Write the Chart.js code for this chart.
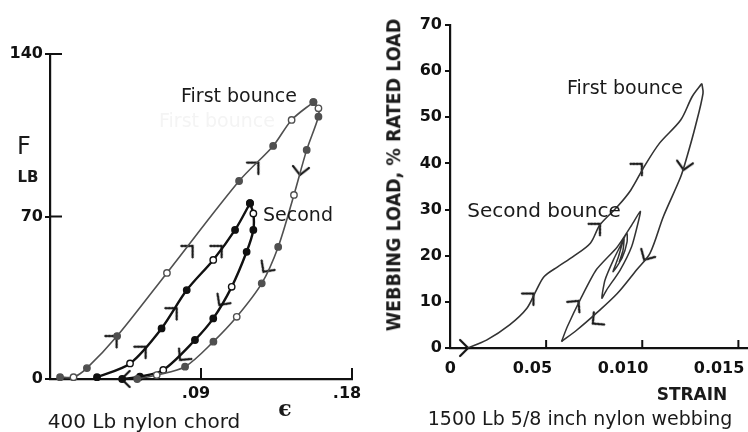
<!DOCTYPE html>
<html>
<head>
<meta charset="utf-8">
<script src="https://cdn.jsdelivr.net/npm/chart.js@4.4.1/dist/chart.umd.min.js"></script>
<style>
html, body { margin: 0; padding: 0; background: #fff; }
#wrap { position: relative; width: 748px; height: 432px; overflow: hidden; }
canvas { position: absolute; left: 0; top: 0; }
.t { position: absolute; white-space: nowrap; line-height: 1; transform: translate(-50%, -50%); font-family: 'DejaVu Sans'; color: #1a1a1a; }
</style>
</head>
<body>
<div id="wrap">
  <canvas id="left" width="748" height="432"></canvas>
  <canvas id="right" width="748" height="432"></canvas>

  <div class="t" style="left:217px;top:120px;font-size:19px;color:#f4f4f4">First bounce</div>
  <div class="t" style="left:24px;top:146px;font-size:24px">F</div>
  <div class="t" style="left:28px;top:177px;font-size:15px;font-weight:bold">LB</div>
  <div class="t" style="left:239px;top:95px;font-size:19px">First bounce</div>
  <div class="t" style="left:298px;top:214px;font-size:19px">Second</div>
  <div class="t" style="left:285px;top:408px;font-size:22px;font-weight:bold;font-family:'DejaVu Serif'">ϵ</div>
  <div class="t" style="left:144px;top:421px;font-size:20px">400 Lb nylon chord</div>

  <div class="t" style="left:394px;top:175px;font-size:19.5px;font-weight:bold;font-family:'DejaVu Sans Condensed','DejaVu Sans';transform:translate(-50%,-50%) rotate(-90deg)">WEBBING LOAD, % RATED LOAD</div>
  <div class="t" style="left:625px;top:87px;font-size:19px">First bounce</div>
  <div class="t" style="left:544px;top:210px;font-size:20px">Second bounce</div>
  <div class="t" style="left:692px;top:394px;font-size:17px;font-weight:bold">STRAIN</div>
  <div class="t" style="left:580px;top:418px;font-size:19px">1500 Lb 5/8 inch nylon webbing</div>
</div>
<script>
// ---- 400 Lb nylon chord (left) ----
var chordXTicks = [0, 0.09, 0.18];
var chordXLabels = ['', '.09', '.18'];
var chordYTicks = [0, 70, 140];

// first bounce, loading / unloading
var load1X = [0.006, 0.014, 0.022, 0.040, 0.0697, 0.1127, 0.133, 0.144, 0.157];
var load1Y = [0.8, 0.8, 4.7, 18.5, 45.7, 85.3, 100.4, 111.6, 119.3];
var unload1X = [0.157, 0.160, 0.160, 0.153, 0.1454, 0.136, 0.1262, 0.1113, 0.0974, 0.0805, 0.0636, 0.052];
var unload1Y = [119.3, 116.6, 113, 98.7, 79.3, 56.9, 41.2, 26.8, 16.1, 5.3, 1.7, 0];
// second bounce
var load2X = [0.028, 0.0477, 0.0665, 0.0815, 0.0973, 0.1103, 0.1192];
var load2Y = [0.8, 6.7, 21.8, 38.3, 51.3, 64.2, 75.7];
var unload2X = [0.1192, 0.1212, 0.1212, 0.1172, 0.1083, 0.0973, 0.0864, 0.0675, 0.0536, 0.043];
var unload2Y = [75.7, 71.3, 64.2, 54.8, 39.7, 26.1, 16.8, 3.9, 1, 0];

var chordArrowX = [0.0397, 0.085, 0.1242, 0.149, 0.1272, 0.057, 0.0755, 0.1023, 0.1009, 0.0775, 0.0427];
var chordArrowY = [18.5, 57.3, 93.2, 87.9, 46.2, 13.9, 30.5, 57.3, 31.9, 8.2, 0];
var chordArrowRot = [-45, -45, -45, 97, 126, -45, -45, -45, 126, 130, 180];

// ---- 1500 Lb 5/8 inch nylon webbing (right) ----
var webXTicks = [0, 0.005, 0.010, 0.015];
var webXLabels = ['0', '0.05', '0.010', '0.015'];

var webLoad1X = [0.0009, 0.0019, 0.0031, 0.0040, 0.0045, 0.0049, 0.0056, 0.0064, 0.0073, 0.0078, 0.0087, 0.0094, 0.0101, 0.0109, 0.0120, 0.0126, 0.0131];
var webLoad1Y = [0, 1.7, 5, 8.6, 12.6, 15.5, 17.6, 19.8, 22.7, 26.7, 30.6, 34.2, 39.3, 44.4, 49.4, 54.5, 57.3];
var webUnload1X = [0.0131, 0.01316, 0.01276, 0.01233, 0.0120, 0.0111, 0.0104, 0.0097, 0.0087, 0.0076, 0.0066, 0.0058];
var webUnload1Y = [57.3, 55.2, 48, 41.5, 37.1, 28.5, 20.5, 16.9, 11.8, 7.5, 3.9, 1.4];
// second bounce: a spiral of shrinking loops
var webSecondX = [0.0058, 0.0061, 0.0068, 0.0076, 0.0087, 0.0094, 0.0099, 0.00978, 0.00945, 0.00885, 0.00815, 0.0079,
                  0.00806, 0.0085, 0.00893, 0.0092, 0.00921, 0.00895, 0.00848, 0.00874, 0.00905, 0.009, 0.0088];
var webSecondY = [1.4, 4.6, 10.7, 16.9, 21.9, 26.3, 29.6, 27.1, 22, 16.9, 12.6, 10.8,
                  14.7, 19.1, 22.7, 24.9, 23, 19.5, 16.5, 19.5, 23.8, 21.2, 18.6];

var webArrowX = [0.00094, 0.00434, 0.0078, 0.00998, 0.01215, 0.0101, 0.00743, 0.00668];
var webArrowY = [0, 11.8, 26.9, 39.9, 38.6, 19.1, 5.3, 10.2];
var webArrowRot = [0, -45, -45, -45, 100, 120, 140, -50];

function pts(xs, ys) {
  return xs.map(function (x, i) { return {x: x, y: ys[i]}; });
}

function makeHead() {
  var c = document.createElement('canvas');
  c.width = 26; c.height = 26;
  var g = c.getContext('2d');
  g.strokeStyle = '#111';
  g.lineWidth = 2.2;
  g.lineCap = 'round';
  g.beginPath();
  g.moveTo(5, 5); g.lineTo(13, 13); g.lineTo(5, 21);
  g.stroke();
  return c;
}
var head = makeHead();

function curve(xs, ys, color, width, dot, tension) {
  return {
    data: pts(xs, ys),
    borderColor: color,
    borderWidth: width,
    tension: tension,
    fill: false,
    clip: false,
    pointRadius: dot,
    pointBorderColor: color,
    pointBorderWidth: 1.4,
    pointBackgroundColor: function (c) { return c.dataIndex % 3 === 1 ? '#fff' : color; }
  };
}

function arrows(xs, ys, rot) {
  return {
    data: pts(xs, ys),
    showLine: false,
    clip: false,
    pointStyle: head,
    pointRadius: 6,
    pointRotation: function (c) { return rot[c.dataIndex]; }
  };
}

// tick marks drawn into the plot, like the original
var inTicks = {
  id: 'inTicks',
  afterDraw: function (chart, args, opts) {
    var g = chart.ctx, a = chart.chartArea;
    g.save();
    g.strokeStyle = '#111';
    g.lineWidth = 2;
    ['x', 'y'].forEach(function (id) {
      var len = opts[id];
      if (!len) return;
      var s = chart.scales[id];
      s.ticks.forEach(function (t) {
        if (t.value === 0) return;
        var p = s.getPixelForValue(t.value);
        g.beginPath();
        if (id === 'x') { g.moveTo(p, a.bottom); g.lineTo(p, a.bottom - len); }
        else { g.moveTo(a.left, p); g.lineTo(a.left + len, p); }
        g.stroke();
      });
    });
    g.restore();
  }
};

Chart.defaults.font.family = 'DejaVu Sans';
Chart.defaults.color = '#111';

var tickFont = {size: 16, weight: 'bold'};
var border = {display: true, color: '#111', width: 2.2};

new Chart(document.getElementById('left'), {
  type: 'line',
  data: {
    datasets: [
      curve(load1X, load1Y, '#505050', 1.6, 3.2, 0.3),
      curve(unload1X, unload1Y, '#505050', 1.6, 3.2, 0.3),
      curve(load2X, load2Y, '#111', 2.4, 3.2, 0.3),
      curve(unload2X, unload2Y, '#111', 2.4, 3.2, 0.3),
      arrows(chordArrowX, chordArrowY, chordArrowRot)
    ]
  },
  options: {
    responsive: false,
    animation: false,
    events: [],
    layout: {autoPadding: false, padding: {left: 0, top: 54, right: 396, bottom: 0}},
    plugins: {legend: {display: false}, tooltip: {enabled: false}, inTicks: {x: 11, y: 12}},
    scales: {
      x: {
        type: 'linear', min: 0, max: 0.18,
        afterBuildTicks: function (s) { s.ticks = chordXTicks.map(function (v) { return {value: v}; }); },
        afterFit: function (s) { s.height = 53; },
        border: border,
        grid: {display: false},
        ticks: {font: tickFont, padding: -3, labelOffset: -5, maxRotation: 0, autoSkip: false,
          callback: function (v, i) { return chordXLabels[i]; }}
      },
      y: {
        type: 'linear', min: 0, max: 140,
        afterBuildTicks: function (s) { s.ticks = chordYTicks.map(function (v) { return {value: v}; }); },
        afterFit: function (s) { s.width = 50; },
        border: border,
        grid: {drawOnChartArea: false, tickLength: 5, color: '#111', lineWidth: 2},
        ticks: {font: tickFont, padding: 2}
      }
    }
  },
  plugins: [inTicks]
});

new Chart(document.getElementById('right'), {
  type: 'line',
  data: {
    datasets: [
      curve(webLoad1X, webLoad1Y, '#333', 1.6, 0, 0.3),
      curve(webUnload1X, webUnload1Y, '#333', 1.6, 0, 0.3),
      curve(webSecondX, webSecondY, '#333', 1.5, 0, 0.2),
      arrows(webArrowX, webArrowY, webArrowRot)
    ]
  },
  options: {
    responsive: false,
    animation: false,
    events: [],
    layout: {autoPadding: false, padding: {left: 0, top: 25, right: 0, bottom: 0}},
    plugins: {legend: {display: false}, tooltip: {enabled: false}, inTicks: {x: 8}},
    scales: {
      x: {
        type: 'linear', min: 0, max: 0.0155,
        afterBuildTicks: function (s) { s.ticks = webXTicks.map(function (v) { return {value: v}; }); },
        afterFit: function (s) { s.height = 84; },
        border: border,
        grid: {display: false},
        ticks: {font: tickFont, padding: 3, align: 'end', labelOffset: 6, maxRotation: 0, autoSkip: false,
          callback: function (v, i) { return webXLabels[i]; }}
      },
      y: {
        type: 'linear', min: 0, max: 70,
        ticks: {stepSize: 10, font: tickFont, padding: 3},
        afterFit: function (s) { s.width = 450; },
        border: border,
        grid: {drawOnChartArea: false, tickLength: 5, color: '#111', lineWidth: 2}
      }
    }
  },
  plugins: [inTicks]
});
</script>
</body>
</html>
